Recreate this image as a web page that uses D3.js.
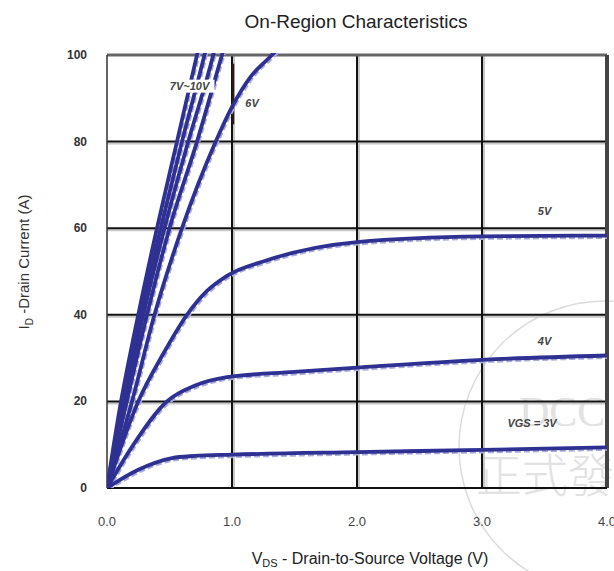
<!DOCTYPE html>
<html>
<head>
<meta charset="utf-8">
<script src="https://cdn.jsdelivr.net/npm/d3@7"></script>
<style>
  body { margin: 0; background: #fff; }
</style>
</head>
<body>
<div class="chart"></div>
<script>
// gate voltages and their Vds / Id points
var vgsNames = ["3V", "4V", "5V", "6V", "7V", "8V", "9V", "10V"];
var vgs3  = [[0,0],[0.25,4.2],[0.52,6.9],[0.7,7.4],[1.0,7.7],[2.0,8.3],[3.0,8.8],[4.0,9.4]];
var vgs4  = [[0,0],[0.2,9.5],[0.48,20],[0.7,23.6],[0.96,25.6],[1.5,26.8],[2.0,27.8],[3.0,29.6],[4.0,30.6]];
var vgs5  = [[0,0],[0.25,20],[0.45,31],[0.64,40],[0.8,45.5],[0.96,49],[1.28,52.6],[2.0,56.8],[3.0,58.1],[4.0,58.3]];
var vgs6  = [[0,0],[0.2,20],[0.38,40],[0.6,60],[0.87,80],[1.0,88],[1.15,95],[1.32,100],[1.45,104]];
var vgs7  = [[0,0],[0.15,19],[0.32,40],[0.5,60],[0.72,80],[0.92,100],[0.98,106]];
var vgs8  = [[0,0],[0.13,19],[0.29,40],[0.46,60],[0.65,80],[0.85,100],[0.9,106]];
var vgs9  = [[0,0],[0.12,19],[0.27,40],[0.43,60],[0.6,80],[0.78,100],[0.83,106]];
var vgs10 = [[0,0],[0.1,18],[0.25,40],[0.4,60],[0.56,80],[0.72,100],[0.77,106]];
var curves = [vgs3, vgs4, vgs5, vgs6, vgs7, vgs8, vgs9, vgs10];

var xTicks = [0, 1, 2, 3, 4];
var yTicks = [0, 20, 40, 60, 80, 100];

// curve labels: text, Vds, Id
var labelText = ["7V~10V", "6V", "5V", "4V", "VGS = 3V"];
var labelVds  = [0.66, 1.16, 3.5, 3.5, 3.4];
var labelId   = [92, 88, 63, 33, 14];

var width = 614;
var height = 571;

var svg = d3.select("div.chart").append("svg")
    .attr("width", width)
    .attr("height", height);

var x = d3.scaleLinear().domain([0, 4]).range([107, 607]);
var y = d3.scaleLinear().domain([0, 100]).range([488, 55]);

// watermark
svg.append("circle")
    .attr("cx", 605).attr("cy", 447).attr("r", 146)
    .style("fill", "none").style("stroke", "#dcdcdc").style("stroke-width", 1.5);
svg.append("text")
    .attr("x", 519).attr("y", 426)
    .text("DCC")
    .style("font-family", "Liberation Serif")
    .style("font-size", "42px")
    .style("fill", "#e2e2e2");
svg.append("text")
    .attr("x", 476).attr("y", 492)
    .text("正式發")
    .style("font-family", "Noto Sans CJK TC")
    .style("font-weight", "300")
    .style("font-size", "46px")
    .style("fill", "#e2e2e2");

// grid (with grey shadow like the scan)
var grid = svg.append("g");
grid.selectAll("line.vs").data(xTicks.slice(1, 4)).enter().append("line")
    .attr("x1", function(d) { return x(d) + 2; }).attr("x2", function(d) { return x(d) + 2; })
    .attr("y1", y(100)).attr("y2", y(0))
    .style("stroke", "#c8c8c8").style("stroke-width", 2);
grid.selectAll("line.hs").data(yTicks.slice(1, 5)).enter().append("line")
    .attr("x1", x(0)).attr("x2", x(4))
    .attr("y1", function(d) { return y(d) + 2; }).attr("y2", function(d) { return y(d) + 2; })
    .style("stroke", "#c8c8c8").style("stroke-width", 2);
grid.selectAll("line.v").data(xTicks.slice(1, 4)).enter().append("line")
    .attr("x1", function(d) { return x(d); }).attr("x2", function(d) { return x(d); })
    .attr("y1", y(100)).attr("y2", y(0))
    .style("stroke", "#111").style("stroke-width", 2);
grid.selectAll("line.h").data(yTicks.slice(1, 5)).enter().append("line")
    .attr("x1", x(0)).attr("x2", x(4))
    .attr("y1", function(d) { return y(d); }).attr("y2", function(d) { return y(d); })
    .style("stroke", "#111").style("stroke-width", 2);

// frame
svg.append("line").attr("x1", x(0)).attr("x2", x(4)).attr("y1", y(100)).attr("y2", y(100))
    .style("stroke", "#666").style("stroke-width", 3);
svg.append("line").attr("x1", x(4)).attr("x2", x(4)).attr("y1", y(100)).attr("y2", y(0))
    .style("stroke", "#444").style("stroke-width", 4);
svg.append("line").attr("x1", x(0)).attr("x2", x(0)).attr("y1", y(100)).attr("y2", y(0))
    .style("stroke", "#333").style("stroke-width", 1.5);
svg.append("line").attr("x1", x(0)).attr("x2", x(4)).attr("y1", y(0)).attr("y2", y(0))
    .style("stroke", "#111").style("stroke-width", 2);
// dark mark on the 1.0 line next to the 6V label
svg.append("line").attr("x1", x(1) + 1).attr("x2", x(1) + 1).attr("y1", y(98)).attr("y2", y(84))
    .style("stroke", "#2a1a14").style("stroke-width", 2.5);

// curves
svg.append("clipPath").attr("id", "plotclip").append("rect")
    .attr("x", x(0)).attr("y", y(100) - 2)
    .attr("width", x(4) - x(0)).attr("height", y(0) - y(100) + 2);

var line = d3.line()
    .x(function(d) { return x(d[0]); })
    .y(function(d) { return y(d[1]); })
    .curve(d3.curveMonotoneX);

var plot = svg.append("g").attr("clip-path", "url(#plotclip)");
plot.selectAll("path.fringe").data(curves).enter().append("path")
    .attr("d", line)
    .attr("transform", "translate(1,1.5)")
    .style("fill", "none")
    .style("stroke", "#a9acdc")
    .style("stroke-width", 4)
    .style("stroke-dasharray", "6,3");
plot.selectAll("path.curve").data(curves).enter().append("path")
    .attr("d", line)
    .style("fill", "none")
    .style("stroke", "#2e3192")
    .style("stroke-width", 3.8)
    .style("stroke-linejoin", "round");

// curve labels
var labels = svg.selectAll("g.lbl").data(labelText).enter().append("g");
labels.append("rect")
    .attr("x", function(d, i) { return x(labelVds[i]) - (i == 0 ? 25 : 0); })
    .attr("y", function(d, i) { return y(labelId[i]) - 10; })
    .attr("width", function(d, i) { return i == 0 ? 50 : 0; })
    .attr("height", 13)
    .style("fill", "#fff");
labels.append("text")
    .attr("x", function(d, i) { return x(labelVds[i]); })
    .attr("y", function(d, i) { return y(labelId[i]); })
    .attr("text-anchor", "middle")
    .text(function(d) { return d; })
    .style("font-family", "Liberation Sans")
    .style("font-size", "11px")
    .style("font-weight", "bold")
    .style("font-style", "italic")
    .style("fill", "#444");

// ticks
svg.selectAll("text.xt").data(xTicks).enter().append("text")
    .attr("x", function(d) { return x(d); })
    .attr("y", 526)
    .attr("text-anchor", "middle")
    .text(function(d) { return d.toFixed(1); })
    .style("font-family", "Liberation Sans")
    .style("font-size", "13px")
    .style("fill", "#444");
svg.selectAll("text.yt").data(yTicks).enter().append("text")
    .attr("x", 87)
    .attr("y", function(d) { return y(d) + 4; })
    .attr("text-anchor", "end")
    .text(function(d) { return d; })
    .style("font-family", "Liberation Sans")
    .style("font-size", "12px")
    .style("font-weight", "bold")
    .style("fill", "#333");

// titles
svg.append("text")
    .attr("x", 356).attr("y", 28)
    .attr("text-anchor", "middle")
    .text("On-Region Characteristics")
    .style("font-family", "Liberation Sans")
    .style("font-size", "19px")
    .style("fill", "#222");

var xt = svg.append("text")
    .attr("x", 370).attr("y", 564)
    .attr("text-anchor", "middle")
    .style("font-family", "Liberation Sans")
    .style("font-size", "16px")
    .style("fill", "#222");
xt.append("tspan").text("V");
xt.append("tspan").attr("dy", 3).style("font-size", "11px").text("DS");
xt.append("tspan").attr("dy", -3).text(" - Drain-to-Source Voltage (V)");

var yt = svg.append("text")
    .attr("transform", "translate(29,262) rotate(-90)")
    .attr("text-anchor", "middle")
    .style("font-family", "Liberation Sans")
    .style("font-size", "15px")
    .style("fill", "#333");
yt.append("tspan").text("I");
yt.append("tspan").attr("dy", 4).style("font-size", "10px").text("D");
yt.append("tspan").attr("dy", -4).text(" -Drain Current (A)");
</script>
</body>
</html>
